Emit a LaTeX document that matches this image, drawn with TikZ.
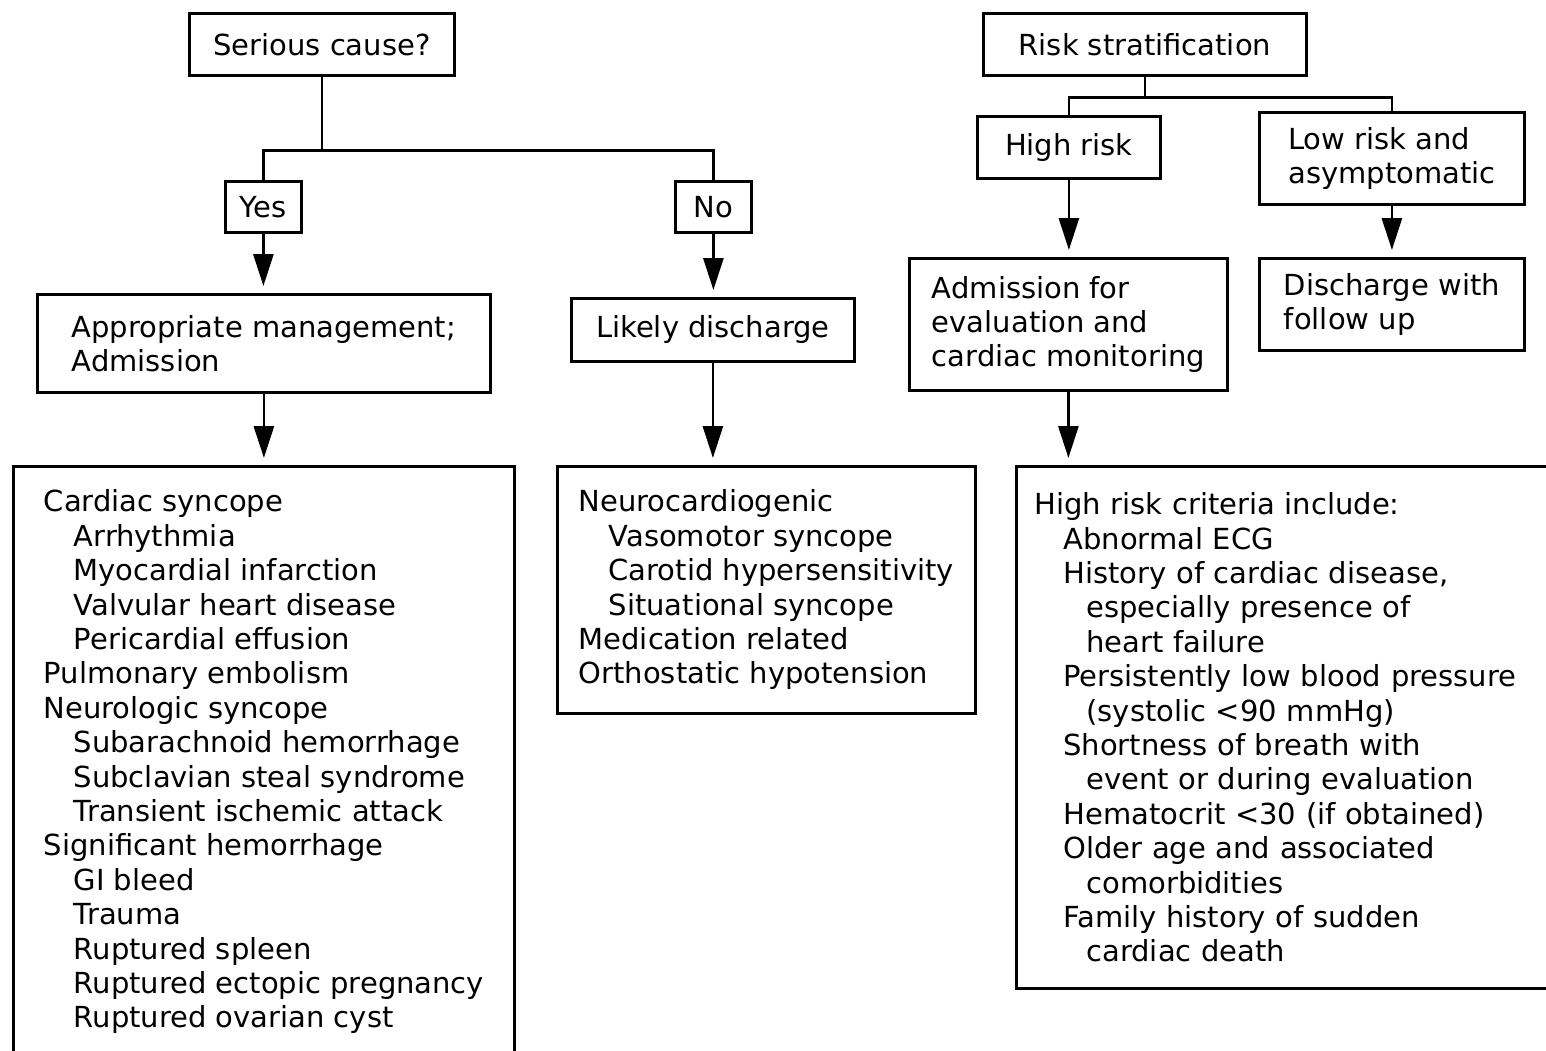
\documentclass[tikz,border=0pt]{standalone}
\usepackage{fontspec}
\setmainfont{DejaVu Sans}
\usetikzlibrary{arrows.meta}
\begin{document}
\begin{tikzpicture}[x=0.5pt, y=-0.5pt, line width=1.4pt,
  font=\fontsize{14.5}{17.2}\selectfont,
  box/.style={draw, anchor=north west, inner sep=0pt, align=left},
  arr/.style={-{Triangle[length=16pt,width=10pt]}, shorten >=3.5pt}]
\clip (0,0) rectangle (1546,1050);
% left branch
\node[box, minimum width=132.5pt, minimum height=31pt] (serious) at (188,12) {Serious cause?};
\node[box, minimum width=38pt, minimum height=25.5pt] (yes) at (224,180) {Yes};
\node[box, minimum width=38pt, minimum height=25.5pt] (no) at (674,180) {No};
\node[box, minimum width=226.5pt, minimum height=49pt] (mgmt) at (36,293) {Appropriate management;\\Admission};
\node[box, minimum width=141.5pt, minimum height=31.5pt] (likely) at (570,297) {Likely discharge};
\node[box, minimum width=250.5pt, minimum height=295.5pt] (serlist) at (12,465) {Cardiac syncope\\
\hspace*{15pt}Arrhythmia\\
\hspace*{15pt}Myocardial infarction\\
\hspace*{15pt}Valvular heart disease\\
\hspace*{15pt}Pericardial effusion\\
Pulmonary embolism\\
Neurologic syncope\\
\hspace*{15pt}Subarachnoid hemorrhage\\
\hspace*{15pt}Subclavian steal syndrome\\
\hspace*{15pt}Transient ischemic attack\\
Significant hemorrhage\\
\hspace*{15pt}GI bleed\\
\hspace*{15pt}Trauma\\
\hspace*{15pt}Ruptured spleen\\
\hspace*{15pt}Ruptured ectopic pregnancy\\
\hspace*{15pt}Ruptured ovarian cyst};
\node[box, minimum width=209pt, minimum height=123.5pt] (benlist) at (556,465) {Neurocardiogenic\\
\hspace*{15pt}Vasomotor syncope\\
\hspace*{15pt}Carotid hypersensitivity\\
\hspace*{15pt}Situational syncope\\
Medication related\\
Orthostatic hypotension};
% right branch
\node[box, minimum width=161.5pt, minimum height=31pt] (risk) at (982,12) {Risk stratification};
\node[box, minimum width=91.5pt, minimum height=31pt] (high) at (976,115) {High risk};
\node[box, minimum width=132.5pt, minimum height=46pt] (low) at (1258,111) {Low risk and\\asymptomatic};
\node[box, minimum width=159pt, minimum height=66pt] (admit) at (908,257) {Admission for\\evaluation and\\cardiac monitoring};
\node[box, minimum width=132.5pt, minimum height=46pt] (discharge) at (1258,257) {Discharge with\\follow up};
\node[box, inner xsep=9pt, text width=259.5pt, minimum height=261pt] (crit) at (1015,465) {High risk criteria include:\\
\hspace*{14.5pt}Abnormal ECG\\
\hspace*{14.5pt}History of cardiac disease,\\
\hspace*{26pt}especially presence of\\
\hspace*{26pt}heart failure\\
\hspace*{14.5pt}Persistently low blood pressure\\
\hspace*{26pt}(systolic <90 mmHg)\\
\hspace*{14.5pt}Shortness of breath with\\
\hspace*{26pt}event or during evaluation\\
\hspace*{14.5pt}Hematocrit <30 (if obtained)\\
\hspace*{14.5pt}Older age and associated\\
\hspace*{26pt}comorbidities\\
\hspace*{14.5pt}Family history of sudden\\
\hspace*{26pt}cardiac death};

\draw (serious.south) -- ++(0,74) coordinate (fork1) -| (yes);
\draw (fork1) -| (no);
\draw[arr] (yes.south) -- (yes.south |- mgmt.north);
\draw[arr] (no.south) -- (no.south |- likely.north);
\draw[arr] (mgmt.south) -- (mgmt.south |- serlist.north);
\draw[arr] (likely.south) -- (likely.south |- benlist.north);

\draw (risk.south) -- ++(0,21) coordinate (fork2) -| (high);
\draw (fork2) -| (low);
\draw[arr] (high.south) -- (high.south |- admit.north);
\draw[arr] (low.south) -- (low.south |- discharge.north);
\draw[arr] (admit.south) -- (admit.south |- crit.north);
\end{tikzpicture}
\end{document}
